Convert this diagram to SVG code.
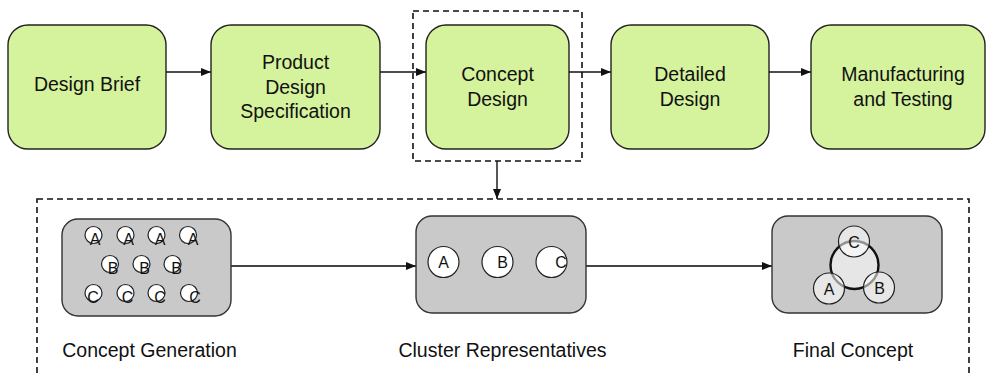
<svg xmlns="http://www.w3.org/2000/svg" width="987" height="375" viewBox="0 0 987 375">
<defs>
<style>
.stage{fill:#d5f29c;stroke:#222;stroke-width:1.4}
.panel{fill:#c9c9c9;stroke:#333;stroke-width:1.4}
.t{font-family:"Liberation Sans",Arial,sans-serif;font-size:19.5px;fill:#111;text-anchor:middle}
.s{font-family:"Liberation Sans",Arial,sans-serif;font-size:16px;fill:#111;text-anchor:middle}
.dash{fill:none;stroke:#111;stroke-width:1.6;stroke-dasharray:6 4}
.conn{stroke:#111;stroke-width:1.4;fill:none}
.conn2{stroke:#444;stroke-width:1.8;fill:none}
.c{fill:#fff;stroke:#222;stroke-width:1.2}
.cf{fill:#fff;fill-opacity:0.55;stroke:#222;stroke-width:1.2}
</style>
<marker id="ah" markerWidth="10" markerHeight="8" refX="10" refY="4" orient="auto" markerUnits="userSpaceOnUse">
<path d="M0,0 L10,4 L0,8 Z" fill="#111"/>
</marker>
</defs>

<g id="concept-frame"><rect class="dash" x="413" y="11" width="169" height="150"/></g>
<g id="expansion-frame"><rect class="dash" x="37" y="199" width="932" height="190"/></g>

<g id="connectors">
<line class="conn" x1="166" y1="72" x2="211" y2="72" marker-end="url(#ah)"/>
<line class="conn" x1="380" y1="72" x2="426" y2="72" marker-end="url(#ah)"/>
<line class="conn" x1="569" y1="72" x2="611" y2="72" marker-end="url(#ah)"/>
<line class="conn" x1="769" y1="72" x2="811" y2="72" marker-end="url(#ah)"/>
<line class="conn" x1="497" y1="161" x2="497" y2="199" marker-end="url(#ah)"/>
<line class="conn2" x1="231" y1="266" x2="416" y2="266" marker-end="url(#ah)"/>
<line class="conn2" x1="586" y1="266" x2="772" y2="266" marker-end="url(#ah)"/>
</g>

<g id="design-brief">
<rect class="stage" x="8" y="25" width="158" height="124" rx="20"/>
<text class="t" x="87" y="91">Design Brief</text>
</g>
<g id="product-design-specification">
<rect class="stage" x="211" y="25" width="169" height="124" rx="20"/>
<text class="t" x="295.5" y="69">Product</text>
<text class="t" x="295.5" y="94">Design</text>
<text class="t" x="295.5" y="118">Specification</text>
</g>
<g id="concept-design">
<rect class="stage" x="426" y="25" width="143" height="124" rx="20"/>
<text class="t" x="497.5" y="81">Concept</text>
<text class="t" x="497.5" y="106">Design</text>
</g>
<g id="detailed-design">
<rect class="stage" x="611" y="25" width="158" height="124" rx="20"/>
<text class="t" x="690" y="81">Detailed</text>
<text class="t" x="690" y="106">Design</text>
</g>
<g id="manufacturing-testing">
<rect class="stage" x="811" y="25" width="174" height="124" rx="20"/>
<text class="t" x="903" y="81">Manufacturing</text>
<text class="t" x="903" y="106">and Testing</text>
</g>

<g id="concept-generation">
<rect class="panel" x="62" y="219" width="169" height="97" rx="16"/>
<circle class="c" cx="93.5" cy="235" r="8.5"/><circle class="c" cx="125.5" cy="235" r="8.5"/><circle class="c" cx="156.5" cy="235" r="8.5"/><circle class="c" cx="188" cy="235" r="8.5"/>
<circle class="c" cx="110" cy="264" r="8.5"/><circle class="c" cx="141.5" cy="264" r="8.5"/><circle class="c" cx="172.5" cy="264" r="8.5"/>
<circle class="c" cx="93.5" cy="293" r="8.5"/><circle class="c" cx="125.5" cy="293" r="8.5"/><circle class="c" cx="156.5" cy="293" r="8.5"/><circle class="c" cx="189" cy="293" r="8.5"/>
<text class="s" x="95" y="245">A</text><text class="s" x="128.5" y="245">A</text><text class="s" x="160" y="245">A</text><text class="s" x="193" y="245">A</text>
<text class="s" x="113" y="274">B</text><text class="s" x="144.5" y="274">B</text><text class="s" x="176.5" y="274">B</text>
<text class="s" x="93" y="303">C</text><text class="s" x="127.5" y="303">C</text><text class="s" x="160" y="303">C</text><text class="s" x="195" y="303">C</text>
<text class="t" x="149.5" y="357">Concept Generation</text>
</g>

<g id="cluster-representatives">
<rect class="panel" x="416" y="216" width="170" height="97" rx="16"/>
<circle class="c" cx="443.5" cy="262" r="15.5"/>
<circle class="c" cx="497.5" cy="262" r="15.5"/>
<circle class="c" cx="551.5" cy="262" r="15.5"/>
<text class="s" x="443.5" y="268">A</text>
<text class="s" x="502.5" y="268">B</text>
<text class="s" x="561" y="268">C</text>
<text class="t" x="502.5" y="357">Cluster Representatives</text>
</g>

<g id="final-concept">
<rect class="panel" x="772" y="216" width="170" height="97" rx="16"/>
<circle cx="854.5" cy="265" r="24" fill="#e6e6e6" stroke="#111" stroke-width="2.4"/>
<circle class="cf" cx="854" cy="241.5" r="15.5"/>
<circle class="cf" cx="829" cy="288.5" r="15.5"/>
<circle class="cf" cx="879" cy="287.5" r="15.5"/>
<text class="s" x="854" y="247.5">C</text>
<text class="s" x="829" y="294.5">A</text>
<text class="s" x="879.5" y="293.5">B</text>
<text class="t" x="853" y="357">Final Concept</text>
</g>
</svg>
